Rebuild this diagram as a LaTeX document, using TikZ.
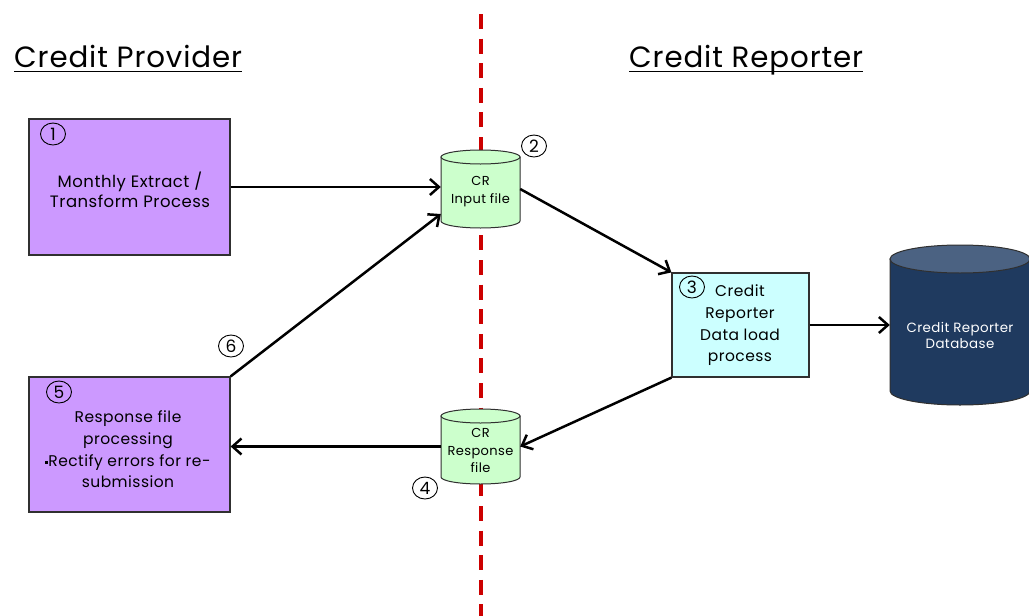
\documentclass[tikz,border=0pt]{standalone}
\usepackage{fontspec}
\setmainfont{Poppins}[LetterSpace=3]
\usetikzlibrary{arrows.meta,shapes.geometric}

\definecolor{procpurple}{HTML}{CC99FF}
\definecolor{loadcyan}{HTML}{CCFFFF}
\definecolor{filegreen}{HTML}{CCFFCC}
\definecolor{dbbody}{HTML}{1F3A5F}
\definecolor{dbtop}{HTML}{4B6282}
\definecolor{divred}{HTML}{CC0000}
\definecolor{edgegray}{HTML}{303030}

% cylinder outline: centre x, top y, bottom y, half width, ellipse half height, body fill, lid fill
\newcommand\drawcyl[7]{%
  \filldraw[fill=#6, draw=edgegray, line width=1pt]
    ({#1-#4},{#2+#5}) -- ({#1-#4},{#3-#5})
    arc[start angle=180, end angle=360, x radius=#4pt, y radius=#5pt]
    -- ({#1+#4},{#2+#5}) -- cycle;
  \filldraw[fill=#7, draw=edgegray, line width=1pt]
    (#1,{#2+#5}) ellipse[x radius=#4pt, y radius=#5pt];
}

\tikzset{
  procbox/.style={draw=edgegray, line width=1.2pt, inner sep=0pt},
  hold/.style={inner sep=0pt, draw=none},
  numbadge/.style={ellipse, draw=black, line width=0.9pt, inner sep=0pt,
    minimum width=25pt, minimum height=22pt, font=\fontsize{17}{17}\selectfont},
  body/.style={align=center, inner sep=0pt},
  flow/.style={line width=2.5pt, -{Straight Barb[length=9pt, width=16pt, line width=2.5pt]}},
  divider/.style={divred, line width=4pt, dash pattern=on 15pt off 9.6pt},
  heading/.style={anchor=base west, inner sep=0pt, font=\fontsize{29.3}{35}\selectfont},
}

\begin{document}
\begin{tikzpicture}[x=1pt, y=-1pt]
\useasboundingbox (0,0) rectangle (1029,616);
\fill[white] (0,0) rectangle (1029,616);

% headings with underline
\node[heading] (hp) at (14,67) {Credit Provider};
\node[heading] (hr) at (629,67) {Credit Reporter};
\draw[line width=1.3pt] ([yshift=-4.5pt]hp.base west) -- ([yshift=-4.5pt]hp.base east);
\draw[line width=1.3pt] ([yshift=-4.5pt]hr.base west) -- ([yshift=-4.5pt]hr.base east);

% dividing line between the two parties
\coordinate (dtop) at (481,14);
\coordinate (dbot) at (481,616);
\draw[divider] (dtop) -- (dbot);

% process boxes
\node[procbox, fill=procpurple, minimum width=201pt, minimum height=136pt] (b1) at (129.5,187) {};
\node[procbox, fill=loadcyan, minimum width=137pt, minimum height=104pt] (b3) at (740.5,325) {};
\node[procbox, fill=procpurple, minimum width=201pt, minimum height=135pt] (b5) at (129.5,444.5) {};

% file and database cylinders
\drawcyl{480.5}{150}{228}{39.5}{7}{filegreen}{filegreen}
\drawcyl{480.5}{409}{484}{39.5}{7}{filegreen}{filegreen}
\drawcyl{960}{245}{405}{70}{14}{dbbody}{dbtop}
\node[hold, minimum width=79pt, minimum height=78pt] (c2) at (480.5,189) {};
\node[hold, minimum width=79pt, minimum height=75pt] (c4) at (480.5,446.5) {};
\node[hold, minimum width=140pt, minimum height=160pt] (db) at (960,325) {};

% texts
\node[body, font=\fontsize{16.5}{20}\selectfont] (t1) at (130,190) {Monthly Extract /\\Transform Process};
\node[body, font=\fontsize{13}{18}\selectfont] (t2) at (480.5,192) {CR\\Input file};
\node[body, font=\fontsize{15.5}{21.7}\selectfont] (t3) at (740,325.5) {Credit\\Reporter\\Data load\\process};
\node[body, font=\fontsize{13}{17.5}\selectfont] (t4) at (480.5,450.5) {CR\\Response\\file};
\node[body, font=\fontsize{15.5}{21.7}\selectfont] (t5) at (128,449.5)
  {Response file\\processing\\\raisebox{2.5pt}{\rule{3pt}{3pt}}Rectify errors for re-\\submission};
\node[body, font=\fontsize{13.4}{16}\selectfont, text=white] (tdb) at (960,335) {Credit Reporter\\Database};

% step numbers
\node[numbadge] (n1) at (53,134) {1};
\node[numbadge] (n2) at (534,146) {2};
\node[numbadge] (n3) at (692,287) {3};
\node[numbadge] (n4) at (425,488) {4};
\node[numbadge] (n5) at (59,392) {5};
\node[numbadge] (n6) at (231,346) {6};

% data flow
\draw[flow] (b1.east) -- (c2.west |- b1.east);
\draw[flow] (c2.east) -- (b3.north west);
\draw[flow] (b3.east) -- (db.west |- b3.east);
\draw[flow] (b3.south west) -- (c4.east);
\draw[flow] (c4.west) -- (c4.west -| b5.east);
\draw[flow] (b5.north east) -- ([yshift=-25pt]c2.west);
\end{tikzpicture}
\end{document}
